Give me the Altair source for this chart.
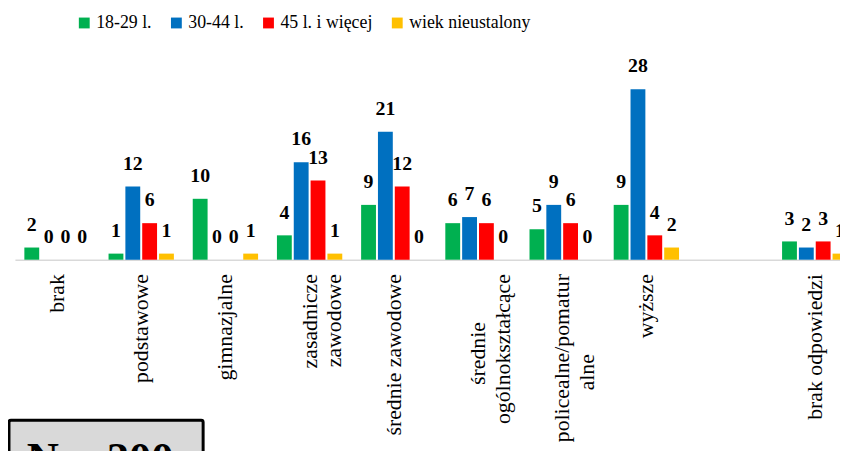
import altair as alt
import pandas as pd

categories = ["brak", "podstawowe", "gimnazjalne", "zasadnicze|zawodowe", "średnie zawodowe",
              "średnie|ogólnokształcące", "policealne/pomatur|alne", "wyższe", " ", "brak odpowiedzi"]
groups = ["18-29 l.", "30-44 l.", "45 l. i więcej", "wiek nieustalony"]
colors = ["#00B050", "#0070C0", "#FF0000", "#FFC000"]
v_18_29 = [2, 1, 10, 4, 9, 6, 5, 9, None, 3]
v_30_44 = [0, 12, 0, 16, 21, 7, 9, 28, None, 2]
v_45_plus = [0, 6, 0, 13, 12, 6, 6, 4, None, 3]
v_unknown = [0, 1, 1, 1, 0, 0, 0, 2, None, 1]
note = ["N = 200"]

rows = []
for g, vals in zip(groups, [v_18_29, v_30_44, v_45_plus, v_unknown]):
    for c, v in zip(categories, vals):
        if v is not None:
            rows.append({"kat": c, "grupa": g, "n": v})
df = pd.DataFrame(rows)

# centre the shorter line of two-line labels by padding it with blank glyphs
expr = ("indexof(datum.label, 'ogóln') >= 0 ? ['średnie' + '\u2800\u2800\u2800', 'ogólnokształcące'] : "
        "(indexof(datum.label, 'pomatur') >= 0 ? ['policealne/pomatur', 'alne' + '\u2800\u2800\u2800\u2800\u2800'] : "
        "split(datum.label, '|'))")

base = alt.Chart(df).encode(
    x=alt.X("kat:N", sort=categories,
            scale=alt.Scale(domain=categories, range=[0, 850], paddingInner=0, paddingOuter=0),
            axis=alt.Axis(title=None, labelAngle=-90, labelExpr=expr,
                          labelFont="Liberation Serif", labelFontSize=22, labelColor="#000000",
                          labelLineHeight=25, labelLimit=400, labelPadding=14, ticks=False,
                          domainColor="#d9d9d9", domainWidth=1.5, labelOverlap=False)),
    xOffset=alt.XOffset("grupa:N", sort=groups,
                        scale=alt.Scale(domain=groups, paddingInner=0.118, paddingOuter=0.56)),
    y=alt.Y("n:Q", scale=alt.Scale(domain=[0, 40]), axis=None),
)

bars = base.mark_bar().encode(
    color=alt.Color("grupa:N", sort=groups, scale=alt.Scale(domain=groups, range=colors),
                    legend=alt.Legend(title=None, orient="none", legendX=61, legendY=-2,
                                      direction="horizontal", symbolType="square", symbolSize=120,
                                      symbolStrokeWidth=0, labelFont="Liberation Serif",
                                      labelFontSize=18, labelColor="#000000", labelOffset=3,
                                      columnPadding=16, labelLimit=300))
)

labels = base.mark_text(baseline="alphabetic", dy=-17, font="Liberation Serif", fontSize=20,
                        fontWeight="bold", color="#000000").encode(text="n:Q")

note_df = pd.DataFrame({"t": note})
box = alt.Chart(note_df).mark_rect(fill="#d9d9d9", stroke="#000000", strokeWidth=3,
                                   cornerRadius=2).encode(
    x=alt.value(-6), x2=alt.value(190), y=alt.value(408), y2=alt.value(480))
note_text = alt.Chart(note_df).mark_text(font="Liberation Serif", fontSize=45, fontWeight="bold",
                                         align="left", baseline="alphabetic",
                                         color="#000000").encode(
    x=alt.value(12), y=alt.value(461), text="t:N")

chart = alt.layer(bars, labels, box, note_text).properties(
    width=833, height=246,
    autosize=alt.AutoSizeParams(type="none"),
    padding={"left": 7, "top": 6, "right": 0, "bottom": 191},
    background="white",
).configure_view(stroke=None).configure_axis(grid=False)

chart.save("out.html", embed_options={"renderer": "svg", "actions": False})
